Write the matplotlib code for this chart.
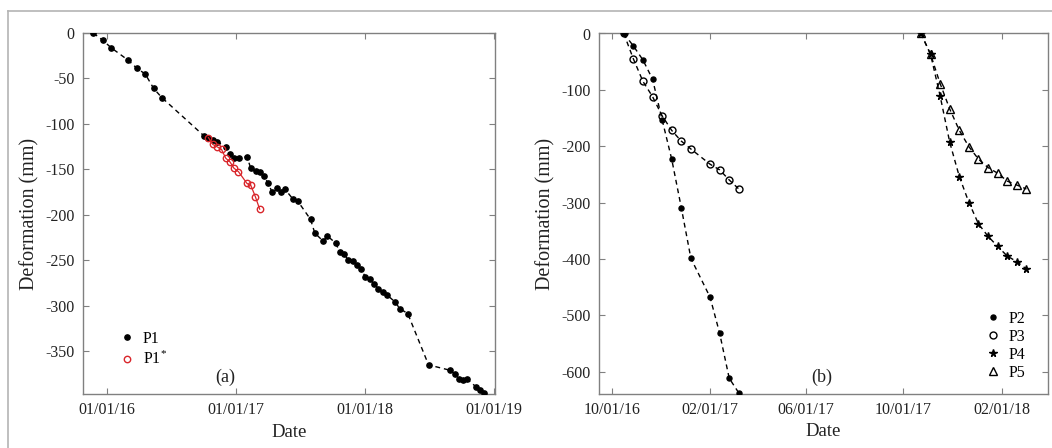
import matplotlib
matplotlib.use('Agg')
import matplotlib.pyplot as plt
import matplotlib.dates as mdates
import pandas as pd
from matplotlib.lines import Line2D

# ---------------- data ----------------
p1_dates = ['2015-11-24', '2015-12-21', '2016-01-13', '2016-03-02', '2016-03-27', '2016-04-19',
            '2016-05-13', '2016-06-05', '2016-10-02', '2016-10-15', '2016-10-27', '2016-11-09',
            '2016-12-04', '2016-12-15', '2016-12-26', '2017-01-09', '2017-02-01', '2017-02-12',
            '2017-02-26', '2017-03-09', '2017-03-20', '2017-04-02', '2017-04-13', '2017-04-26',
            '2017-05-08', '2017-05-20', '2017-06-12', '2017-06-25', '2017-07-31', '2017-08-12',
            '2017-09-05', '2017-09-16', '2017-10-10', '2017-10-22', '2017-11-03', '2017-11-15',
            '2017-11-27', '2017-12-09', '2017-12-21', '2018-01-02', '2018-01-14', '2018-01-27',
            '2018-02-08', '2018-02-20', '2018-03-04', '2018-03-28', '2018-04-09', '2018-05-02',
            '2018-06-30', '2018-08-31', '2018-09-12', '2018-09-24', '2018-10-06', '2018-10-18',
            '2018-11-11', '2018-11-23', '2018-12-05']
p1_vals = [0, -8, -16, -30, -39, -45,
           -61, -71, -113, -115, -118, -120,
           -125, -133, -137, -137, -136, -149,
           -152, -153, -157, -165, -175, -171,
           -175, -172, -183, -185, -205, -220,
           -229, -223, -231, -241, -243, -250,
           -250.5, -255, -260, -268, -271, -276,
           -281, -285, -288, -296, -303, -308.5,
           -365, -371, -375, -380, -382, -381,
           -389, -393, -396]

p1s_dates = ['2016-10-15', '2016-10-27', '2016-11-08', '2016-11-21', '2016-12-03', '2016-12-15',
             '2016-12-26', '2017-01-08', '2017-02-01', '2017-02-12', '2017-02-25', '2017-03-09']
p1s_vals = [-115, -122.5, -125, -128, -137.7, -141.8,
            -148.6, -152.5, -165.4, -167.6, -180.2, -193.7]

p23_dates = ['2016-10-16', '2016-10-28', '2016-11-09', '2016-11-21', '2016-12-03', '2016-12-15',
             '2016-12-27', '2017-01-08', '2017-02-01', '2017-02-13', '2017-02-25', '2017-03-09']
p2_vals = [0, -22, -47, -81, -153, -223, -309, -399, -468, -532, -612, -638]
p3_vals = [0, -45, -85, -112, -146, -172, -191, -205, -232, -242, -260, -276]

p45_dates = ['2017-10-23', '2017-11-04', '2017-11-16', '2017-11-28', '2017-12-10', '2017-12-22',
             '2018-01-03', '2018-01-15', '2018-01-27', '2018-02-08', '2018-02-20', '2018-03-04']
p4_vals = [0, -37, -111, -193, -254, -300, -338, -360, -378, -395, -405, -418]
p5_vals = [0, -37, -89, -134, -172, -201, -223, -238, -248, -262, -269, -276]

left_xticks = ['2016-01-01', '2017-01-01', '2018-01-01', '2019-01-01']
right_xticks = ['2016-10-01', '2017-02-01', '2017-06-01', '2017-10-01', '2018-02-01']
left_yticks = [0, -50, -100, -150, -200, -250, -300, -350]
right_yticks = [0, -100, -200, -300, -400, -500, -600]

# ---------------- style ----------------
plt.rcParams['font.family'] = ['Liberation Serif', 'DejaVu Serif']
plt.rcParams['mathtext.fontset'] = 'custom'
plt.rcParams['mathtext.rm'] = 'Liberation Serif'
plt.rcParams['mathtext.it'] = 'Liberation Serif:italic'
plt.rcParams['axes.unicode_minus'] = False

spine_col = '#808080'
text_col = '#222222'
red = '#d9262b'
dash = (3.5, 2.8)

fig = plt.figure(figsize=(10.52, 4.48), dpi=100)
axL = fig.add_axes([83 / 1052, 1 - 394 / 448, 412 / 1052, 361 / 448])
axR = fig.add_axes([599 / 1052, 1 - 393.5 / 448, 449 / 1052, 360 / 448])

# outer frame lines
fig.add_artist(Line2D([8 / 1052, 8 / 1052], [0, 1 - 11 / 448], transform=fig.transFigure,
                      color='#b4b4b4', lw=1.2))
fig.add_artist(Line2D([8 / 1052, 1], [1 - 11 / 448, 1 - 11 / 448], transform=fig.transFigure,
                      color='#b4b4b4', lw=1.2))

td = lambda s: pd.to_datetime(s)

# ----- left panel -----
axL.plot(td(p1_dates), p1_vals, linestyle='--', dashes=dash, color='black', lw=1.0,
         marker='o', ms=3.8, mfc='black', mec='black', label='P1', zorder=3)
axL.plot(td(p1s_dates), p1s_vals, linestyle='-', color=red, lw=0.9,
         marker='o', ms=4.6, mfc='none', mec=red, mew=1.0, label='P1$^{*}$', zorder=4)
axL.set_xlim(pd.Timestamp('2015-10-26'), pd.Timestamp('2019-01-04'))
axL.set_ylim(-397, 0)
axL.set_xticks(td(left_xticks))
axL.set_yticks(left_yticks)
axL.set_xlabel('Date', fontsize=13.5, color=text_col, labelpad=4)
axL.set_ylabel('Deformation (mm)', fontsize=14.5, color=text_col, labelpad=4)
axL.text(0.345, 0.045, '(a)', transform=axL.transAxes, fontsize=13, ha='center', va='center',
         color=text_col)
legL = axL.legend(loc='lower left', bbox_to_anchor=(0.06, 0.04), frameon=False, fontsize=11.5,
                  handlelength=1.0, handletextpad=0.5, labelspacing=0.25, borderpad=0.2)
for h in legL.legend_handles:
    h.set_linestyle('none')

# ----- right panel -----
axR.plot(td(p23_dates), p2_vals, linestyle='--', dashes=dash, color='black', lw=1.0,
         marker='o', ms=3.6, mfc='black', mec='black', label='P2', zorder=3)
axR.plot(td(p23_dates), p3_vals, linestyle='--', dashes=dash, color='black', lw=1.0,
         marker='o', ms=5.0, mfc='none', mec='black', mew=1.0, label='P3', zorder=3)
axR.plot(td(p45_dates), p4_vals, linestyle='--', dashes=dash, color='black', lw=1.0,
         marker='*', ms=5.5, mfc='black', mec='black', label='P4', zorder=3)
axR.plot(td(p45_dates), p5_vals, linestyle='--', dashes=dash, color='black', lw=1.0,
         marker='^', ms=5.5, mfc='none', mec='black', mew=1.0, label='P5', zorder=3)
axR.set_xlim(pd.Timestamp('2016-09-15'), pd.Timestamp('2018-03-31'))
axR.set_ylim(-639, 0)
axR.set_xticks(td(right_xticks))
axR.set_yticks(right_yticks)
axR.set_xlabel('Date', fontsize=13.5, color=text_col, labelpad=4)
axR.set_ylabel('Deformation (mm)', fontsize=14.5, color=text_col, labelpad=4)
axR.text(0.497, 0.045, '(b)', transform=axR.transAxes, fontsize=13, ha='center', va='center',
         color=text_col)
legR = axR.legend(loc='lower right', bbox_to_anchor=(0.975, 0.005), frameon=False, fontsize=11.5,
                  handlelength=1.0, handletextpad=0.5, labelspacing=0.12, borderpad=0.2)
for h in legR.legend_handles:
    h.set_linestyle('none')

for ax in (axL, axR):
    ax.xaxis.set_major_formatter(mdates.DateFormatter('%m/%d/%y'))
    ax.tick_params(direction='in', top=True, right=True, length=4, width=0.8,
                   color=spine_col, labelsize=11.5, labelcolor=text_col, pad=6)
    for sp in ax.spines.values():
        sp.set_color(spine_col)
        sp.set_linewidth(1.0)

fig.savefig('out.png', dpi=100)
